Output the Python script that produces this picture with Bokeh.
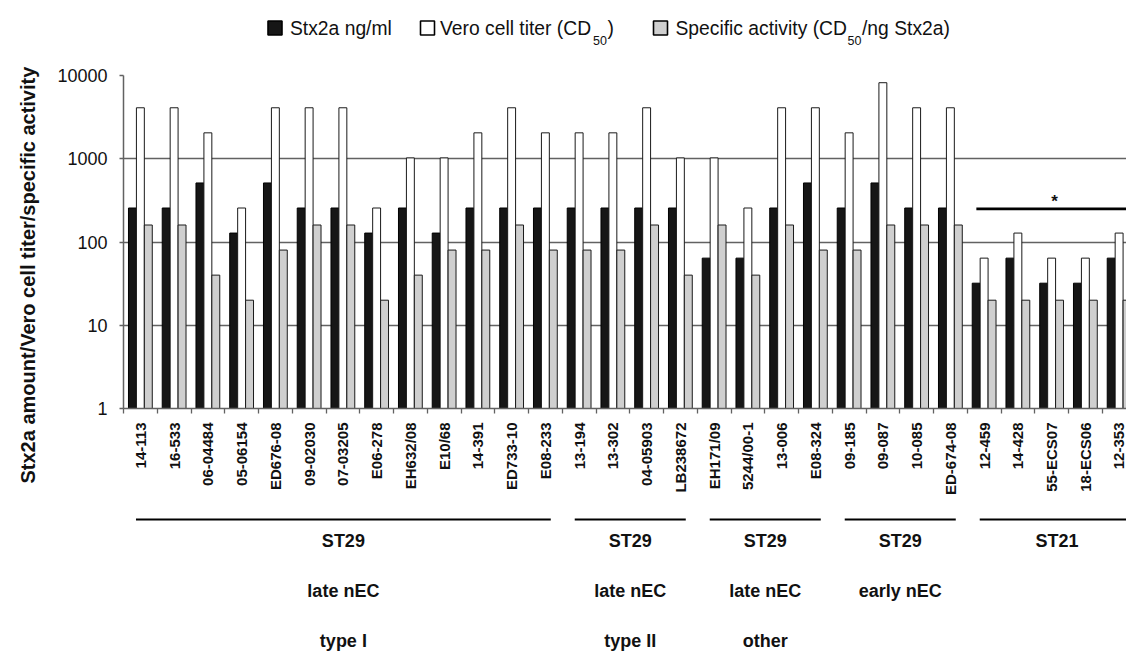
import math
from bokeh.plotting import figure
from bokeh.models import ColumnDataSource, Range1d, FixedTicker, NumeralTickFormatter, Title
from bokeh.layouts import column
from bokeh.core.properties import value
from bokeh.transform import dodge
from bokeh.embed import file_html
from bokeh.resources import INLINE

# ---------------- data ----------------
strains = ["14-113", "16-533", "06-04484", "05-06154", "ED676-08", "09-02030", "07-03205",
           "E06-278", "EH632/08", "E10/68", "14-391", "ED733-10", "E08-233",
           "13-194", "13-302", "04-05903", "LB238672",
           "EH171/09", "5244/00-1", "13-006", "E08-324",
           "09-185", "09-087", "10-085", "ED-674-08",
           "12-459", "14-428", "55-ECS07", "18-ECS06", "12-353"]
stx2a = [256, 256, 512, 128, 512, 256, 256, 128, 256, 128, 256, 256, 256,
         256, 256, 256, 256,
         64, 64, 256, 512,
         256, 512, 256, 256,
         32, 64, 32, 32, 64]
vero = [4096, 4096, 2048, 256, 4096, 4096, 4096, 256, 1024, 1024, 2048, 4096, 2048,
        2048, 2048, 4096, 1024,
        1024, 256, 4096, 4096,
        2048, 8192, 4096, 4096,
        64, 128, 64, 64, 128]
specific = [160, 160, 40, 20, 80, 160, 160, 20, 40, 80, 80, 160, 80,
            80, 80, 160, 40,
            160, 40, 160, 80,
            80, 160, 160, 160,
            20, 20, 20, 20, 20]

group_st = ["ST29", "ST29", "ST29", "ST29", "ST21"]
group_nec = ["late nEC", "late nEC", "late nEC", "early nEC", ""]
group_type = ["type I", "type II", "other", "", ""]
group_first = [0, 13, 17, 21, 25]
group_last = [12, 16, 20, 24, 29]

sig_first, sig_last, sig_mark = 25, 29, "*"

series_main = ["Stx2a ng/ml", "Vero cell titer (CD", "Specific activity (CD"]
series_sub = ["", "50", "50"]
series_tail = ["", ")", "/ng Stx2a)"]
y_title = "Stx2a amount/Vero cell titer/specific activity"
y_ticks = [1, 10, 100, 1000, 10000]

# ---------------- style ----------------
W = 1126
LEFT = 123
CAT_PX = 33.75
FONT = "Liberation Sans"
BLACK = "#161616"
GRAY = "#cfcfcf"
AXIS_C = "#626262"
n = len(strains)
centers = [i + 0.5 for i in range(n)]

xr = Range1d(0, (W - LEFT) / CAT_PX)

# ---------------- legend strip (coordinates in page pixels) ----------------
lg = figure(width=W, height=62, x_range=Range1d(LEFT, W), y_range=Range1d(62, 0),
            output_backend="svg", toolbar_location=None,
            x_axis_location=None, y_axis_location=None, min_border=0,
            min_border_left=LEFT, outline_line_color=None)
lg.grid.visible = False
sq_x = [274.5, 427, 660]
lg.rect(x=sq_x, y=[27.5] * 3, width=14, height=14,
        fill_color=[BLACK, "white", GRAY], line_color="black", line_width=1.6)
main_x = [289.5, 439.5, 675]
sub_x = [592.5, 847]
tail_x = [607, 861.5]
lg.text(x=main_x, y=[27.5] * 3, text=series_main, text_font=value(FONT),
        text_font_size="19.3px", text_baseline="middle", text_color="#111111")
lg.text(x=sub_x, y=[40, 40], text=series_sub[1:],
        text_font=value(FONT), text_font_size="12.5px", text_baseline="middle",
        text_color="#111111")
lg.text(x=tail_x, y=[27.5, 27.5], text=series_tail[1:],
        text_font=value(FONT), text_font_size="19.3px", text_baseline="middle",
        text_color="#111111")

# ---------------- main chart ----------------
p = figure(width=W, height=438, x_range=xr, y_range=Range1d(1, 10000),
           y_axis_type="log", output_backend="svg", toolbar_location=None,
           min_border_left=LEFT, min_border_right=0, min_border_top=13,
           min_border_bottom=92, outline_line_color=None)

p.xgrid.visible = False
p.ygrid.ticker = FixedTicker(ticks=[10, 100, 1000])
p.ygrid.grid_line_color = AXIS_C
p.ygrid.grid_line_width = 1.4

p.yaxis.ticker = FixedTicker(ticks=y_ticks)
p.yaxis.formatter = NumeralTickFormatter(format="0")
p.yaxis.major_label_text_font = FONT
p.yaxis.major_label_text_font_size = "18px"
p.yaxis.major_label_text_color = "#111111"
p.yaxis.major_label_standoff = 12
p.yaxis.major_tick_out = 4
p.yaxis.major_tick_in = 0
p.yaxis.minor_tick_out = 0
p.yaxis.minor_tick_in = 0
p.yaxis.axis_line_color = AXIS_C
p.yaxis.axis_line_width = 1.5
p.yaxis.major_tick_line_color = AXIS_C
p.yaxis.major_tick_line_width = 1.5

p.xaxis.ticker = FixedTicker(ticks=centers, minor_ticks=list(range(n + 1)))
p.xaxis.major_label_overrides = {c: s for c, s in zip(centers, strains)}
p.xaxis.major_label_orientation = math.pi / 2
p.xaxis.major_label_text_font = FONT
p.xaxis.major_label_text_font_style = "bold"
p.xaxis.major_label_text_font_size = "15px"
p.xaxis.major_label_text_color = "#111111"
p.xaxis.major_label_standoff = 9
p.xaxis.major_tick_out = 0
p.xaxis.major_tick_in = 0
p.xaxis.minor_tick_out = 5
p.xaxis.minor_tick_in = 0
p.xaxis.minor_tick_line_color = AXIS_C
p.xaxis.minor_tick_line_width = 1.3
p.xaxis.axis_line_color = AXIS_C
p.xaxis.axis_line_width = 1.5

src = ColumnDataSource(dict(x=centers, stx=stx2a, vero=vero, spec=specific))
BW = 0.235
p.vbar(x=dodge("x", -0.235, range=p.x_range), top="stx", bottom=1, width=BW, source=src,
       fill_color=BLACK, line_color="#000000", line_width=1)
p.vbar(x=dodge("x", 0.0, range=p.x_range), top="vero", bottom=1, width=BW, source=src,
       fill_color="white", line_color="#1a1a1a", line_width=1)
p.vbar(x=dodge("x", 0.235, range=p.x_range), top="spec", bottom=1, width=BW, source=src,
       fill_color=GRAY, line_color="#1a1a1a", line_width=1)

# significance bar over ST21 group
sx0, sx1 = sig_first + 0.27, sig_last + 0.9
p.segment(x0=[sx0], y0=[250], x1=[sx1], y1=[250], line_color="black", line_width=2.6)
p.text(x=[(sx0 + sx1) / 2], y=[310], text=[sig_mark], text_font=value(FONT),
       text_font_style="bold", text_font_size="17px", text_align="center",
       text_baseline="middle", text_color="#111111")

# y axis title as a side title (left panel), shifted toward the bottom
p.add_layout(Title(text=y_title, align="left", offset=-75, vertical_align="middle",
                   standoff=30, text_font=FONT, text_font_style="bold",
                   text_font_size="20px", text_color="#111111"), "left")

# ---------------- group annotations ----------------
g = figure(width=W, height=151, x_range=xr, y_range=Range1d(151, 0),
           output_backend="svg", toolbar_location=None,
           x_axis_location=None, y_axis_location=None,
           min_border_left=LEFT, min_border_right=0, min_border_top=0,
           min_border_bottom=0, outline_line_color=None)
g.grid.visible = False
gx0 = [f + 0.37 for f in group_first]
gx1 = [l + 0.66 for l in group_last]
gx1[-1] = group_last[-1] + 0.95
gmid = [(a + b) / 2 for a, b in zip(gx0, gx1)]
g.segment(x0=gx0, y0=[19] * len(gx0), x1=gx1, y1=[19] * len(gx0),
          line_color="black", line_width=2)
for rows, yy in ((group_st, 40), (group_nec, 90), (group_type, 140)):
    g.text(x=gmid, y=[yy] * len(gmid), text=rows, text_font=value(FONT),
           text_font_style="bold", text_font_size="18px", text_align="center",
           text_baseline="middle", text_color="#111111")

layout = column(lg, p, g, spacing=0)
open("out.html", "w").write(file_html(layout, INLINE))
